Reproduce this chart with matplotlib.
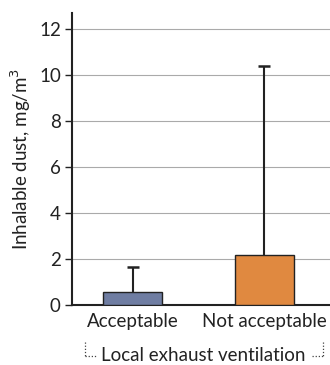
import numpy as np
import matplotlib.pyplot as plt

plt.rcParams['font.family'] = ['Lato', 'DejaVu Sans']

categories = ["Acceptable", "Not acceptable"]
means = [0.55, 2.17]
errors = [1.10, 8.25]
colors = ["#6F7DA2", "#E08940"]
yticks = [0, 2, 4, 6, 8, 10, 12]

fs = 13.5
fig = plt.figure(figsize=(3.3, 3.65), dpi=100)
ax = fig.add_axes([0.218, 0.164, 0.782, 0.8])

x = np.arange(len(categories))
tops = np.array(means) + np.array(errors)
ax.vlines(x, means, tops, color="#222222", linewidth=1.5, zorder=2)
ax.plot(x, tops, linestyle="none", marker="_", markersize=8, markeredgewidth=1.8,
        color="#222222", zorder=2)
ax.bar(x, means, width=0.45, color=colors, edgecolor="#222222", linewidth=1, zorder=3)

ax.set_xlim(-0.46, 1.5)
ax.set_ylim(0, 12.7)
ax.set_yticks(yticks)
ax.set_xticks(x)
ax.set_xticklabels(categories, fontsize=fs, color="#222222")
ax.tick_params(axis="y", labelsize=fs, length=5, width=1, colors="#222222", pad=3)
ax.tick_params(axis="x", length=0, pad=6)
ax.yaxis.grid(True, color="#aaaaaa", linewidth=0.8, zorder=0)
ax.set_axisbelow(True)
for s in ["top", "right"]:
    ax.spines[s].set_visible(False)
for s in ["left", "bottom"]:
    ax.spines[s].set_linewidth(1.5)
    ax.spines[s].set_color("#222222")
ax.set_ylabel("Inhalable dust, mg/m$^3$", fontsize=fs, color="#222222", labelpad=4)

# group label with dotted brackets
fig.text(0.615, 0.027, "Local exhaust ventilation", ha="center", va="center",
         fontsize=fs, color="#222222")
dot = dict(color="#444444", linewidth=0.9, linestyle=(0, (1, 1.5)))
fig.add_artist(plt.Line2D([0.258, 0.258], [0.062, 0.025], **dot))
fig.add_artist(plt.Line2D([0.258, 0.29], [0.025, 0.025], **dot))
fig.add_artist(plt.Line2D([0.978, 0.978], [0.062, 0.025], **dot))
fig.add_artist(plt.Line2D([0.945, 0.978], [0.025, 0.025], **dot))

fig.savefig("out.png", dpi=100)
